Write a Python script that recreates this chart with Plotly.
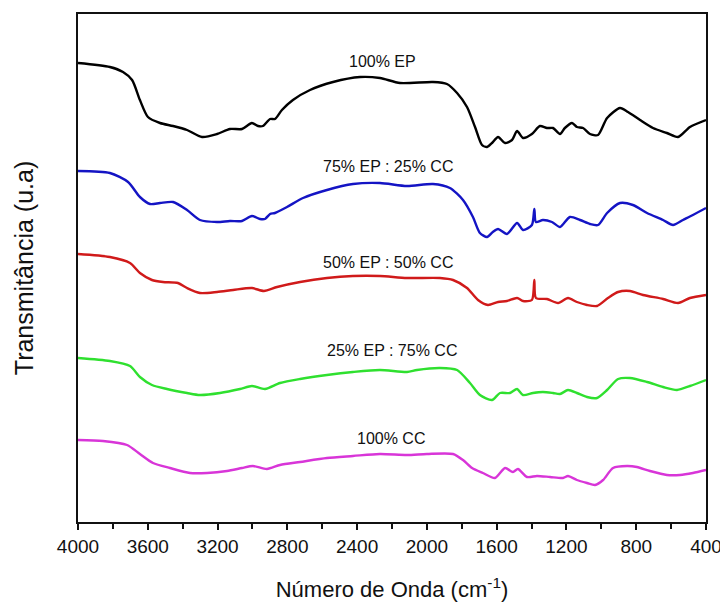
import plotly.graph_objects as go

# Wavenumber (cm-1) and transmittance (arbitrary units, offset per sample)
wn_ep100 = [4000, 3817, 3742, 3690, 3645, 3599, 3530, 3455, 3375, 3289, 3203, 3129, 3060, 3003,
            2968, 2940, 2899, 2871, 2831, 2768, 2670, 2538, 2383, 2269, 2154, 1965, 1885, 1827,
            1770, 1724, 1684, 1655, 1627, 1592, 1552, 1512, 1483, 1449, 1398, 1352, 1312, 1277,
            1237, 1209, 1168, 1140, 1105, 1065, 1019, 967, 893, 847, 778, 704, 624, 560, 492, 400]
t_ep100 = [459, 455, 450, 442, 422, 405, 399, 396, 392, 385, 388, 393, 393, 399,
           396, 396, 403, 403, 412, 422, 432, 440, 445, 444, 439, 440, 438, 429,
           415, 395, 377, 375, 379, 385, 379, 382, 391, 384, 388, 396, 394, 394,
           388, 394, 399, 395, 394, 388, 387, 404, 414, 410, 402, 394, 389, 385, 395, 402]

wn_ep75 = [4000, 3817, 3713, 3645, 3587, 3530, 3455, 3375, 3301, 3203, 3129, 3060, 3003, 2957,
           2928, 2899, 2871, 2802, 2710, 2573, 2424, 2269, 2114, 1965, 1868, 1793, 1736, 1696,
           1655, 1622, 1592, 1541, 1483, 1449, 1398, 1384, 1375, 1335, 1283, 1237, 1180, 1122,
           1065, 1019, 967, 893, 819, 738, 646, 589, 532, 475, 400]
t_ep75 = [351, 349, 340, 325, 318, 319, 320, 312, 302, 300, 301, 301, 306, 303,
          303, 308, 309, 315, 324, 332, 338, 339, 336, 338, 334, 322, 305, 289,
          285, 290, 293, 288, 299, 292, 297, 313, 300, 302, 300, 295, 305, 302,
          298, 297, 309, 319, 317, 309, 302, 297, 302, 307, 314]

wn_ep50 = [4000, 3817, 3702, 3645, 3576, 3513, 3427, 3375, 3301, 3203, 3111, 3003, 2934, 2859,
           2727, 2573, 2424, 2269, 2114, 1925, 1850, 1770, 1707, 1650, 1592, 1541, 1483, 1449,
           1398, 1384, 1375, 1312, 1248, 1191, 1140, 1082, 1025, 962, 904, 836, 761, 646, 560,
           492, 400]
t_ep50 = [268, 265, 259, 249, 242, 240, 239, 234, 229, 230, 232, 234, 231, 235,
          240, 244, 246, 246, 244, 244, 242, 234, 222, 217, 220, 221, 224, 221,
          222, 242, 224, 223, 219, 224, 220, 217, 216, 224, 230, 231, 227, 223, 219,
          224, 227]

wn_ep25 = [4000, 3817, 3702, 3645, 3576, 3490, 3375, 3301, 3186, 3071, 3003, 2928, 2842, 2727,
           2573, 2424, 2269, 2114, 2057, 1925, 1827, 1753, 1696, 1627, 1581, 1524, 1483, 1449,
           1392, 1335, 1277, 1237, 1191, 1140, 1082, 1025, 967, 904, 836, 738, 646, 566, 492, 400]
t_ep25 = [164, 161, 156, 145, 137, 133, 129, 127, 129, 133, 136, 133, 139, 143,
          147, 150, 152, 150, 152, 154, 152, 139, 127, 122, 129, 129, 133, 127,
          129, 130, 129, 128, 132, 129, 125, 124, 132, 143, 144, 140, 135, 132, 136, 142]

wn_cc100 = [4000, 3857, 3719, 3645, 3570, 3473, 3358, 3260, 3146, 3060, 2997, 2917, 2842, 2727,
            2573, 2424, 2269, 2114, 2000, 1850, 1793, 1741, 1679, 1610, 1552, 1507, 1478, 1426,
            1369, 1294, 1220, 1191, 1140, 1082, 1036, 990, 933, 853, 796, 721, 624, 549, 475, 400]
t_cc100 = [82, 81, 77, 68, 59, 54, 49, 49, 51, 54, 56, 53, 57, 60,
           64, 66, 68, 67, 68, 68, 62, 54, 49, 44, 54, 50, 53, 45,
           46, 45, 44, 46, 42, 39, 37, 42, 54, 56, 55, 51, 47, 47, 49, 52]

series = [
    ("100% EP", wn_ep100, t_ep100, "#000000"),
    ("75% EP : 25% CC", wn_ep75, t_ep75, "#1414c4"),
    ("50% EP : 50% CC", wn_ep50, t_ep50, "#d01a1a"),
    ("25% EP : 75% CC", wn_ep25, t_ep25, "#2fe02f"),
    ("100% CC", wn_cc100, t_cc100, "#d835d8"),
]

# label positions (wavenumber, transmittance)
label_wn = [2252, 2223, 2223, 2200, 2206]
label_t = [461, 356, 260, 172, 84]

FONT = "Liberation Sans, Arial, sans-serif"

fig = go.Figure()
for name, x, y, c in series:
    fig.add_trace(go.Scatter(x=x, y=y, mode="lines", name=name,
                             line=dict(color=c, width=2.4, shape="spline", smoothing=0.7)))

for (name, _, _, _), lx, ly in zip(series, label_wn, label_t):
    fig.add_annotation(x=lx, y=ly, text=name, showarrow=False,
                       font=dict(family=FONT, size=16, color="#111111"))

# the page body adds an 8px offset, so the figure is 8px smaller
fig.update_layout(
    width=720, height=598,
    margin=dict(l=70, r=22, t=6, b=84),
    paper_bgcolor="white", plot_bgcolor="white",
    showlegend=False,
    font=dict(family=FONT, color="#111111"),
)
fig.update_xaxes(
    range=[4000, 400], tickvals=[4000, 3600, 3200, 2800, 2400, 2000, 1600, 1200, 800, 400],
    ticks="outside", ticklen=6, tickwidth=1.5, tickcolor="#111111",
    minor=dict(tickvals=[3800, 3400, 3000, 2600, 2200, 1800, 1400, 1000, 600],
               ticks="outside", ticklen=5, tickwidth=1.5, tickcolor="#111111"),
    showline=True, linecolor="#111111", linewidth=2, mirror=True,
    showgrid=False, zeroline=False, automargin=False,
    tickfont=dict(family=FONT, size=19, color="#111111"),
    title=dict(text="Número de Onda (cm<sup>-1</sup>)", standoff=26,
               font=dict(family=FONT, size=22, color="#111111")),
)
fig.update_yaxes(
    range=[0, 508], showticklabels=False, ticks="",
    showline=True, linecolor="#111111", linewidth=2, mirror=True,
    showgrid=False, zeroline=False, automargin=False,
    title=dict(text="Transmitância (u.a)", standoff=35,
               font=dict(family=FONT, size=25, color="#111111")),
)

fig.write_html("out.html")
